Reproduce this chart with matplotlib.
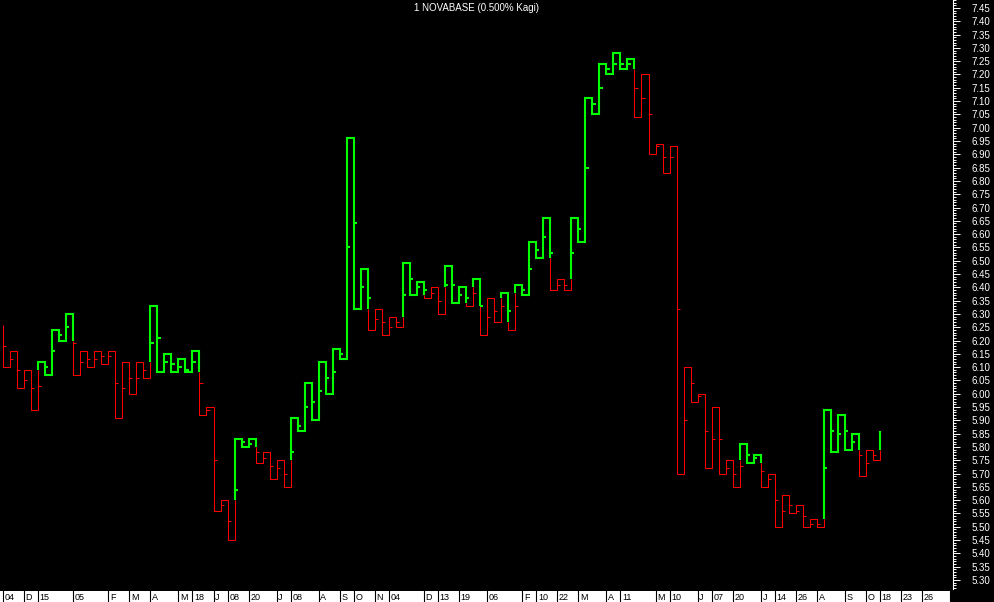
import matplotlib
matplotlib.use("Agg")
import matplotlib.pyplot as plt
from matplotlib.ticker import MultipleLocator, FormatStrFormatter

plt.rcParams['font.family'] = ['Liberation Sans', 'DejaVu Sans']

title = "1 NOVABASE (0.500% Kagi)"

# Kagi turning levels: line starts at levels[0], column i runs to levels[i + 1]
levels = [6.26,
          6.10, 6.16, 6.02, 6.09, 5.94, 6.12, 6.07, 6.24, 6.20, 6.30,
          6.07, 6.16, 6.10, 6.16, 6.11, 6.16, 5.91, 6.12, 6.00, 6.12,
          6.06, 6.33, 6.08, 6.15, 6.08, 6.13, 6.08, 6.16, 5.92, 5.95,
          5.56, 5.60, 5.45, 5.83, 5.80, 5.83, 5.74, 5.78, 5.68, 5.75,
          5.65, 5.91, 5.86, 6.04, 5.90, 6.12, 6.00, 6.17, 6.13, 6.96,
          6.32, 6.47, 6.24, 6.32, 6.22, 6.29, 6.25, 6.49, 6.37, 6.42,
          6.36, 6.40, 6.30, 6.48, 6.34, 6.40, 6.33, 6.43, 6.22, 6.36,
          6.27, 6.38, 6.24, 6.41, 6.37, 6.57, 6.51, 6.66, 6.39, 6.43,
          6.39, 6.66, 6.57, 7.11, 7.05, 7.24, 7.20, 7.28, 7.22, 7.26,
          7.04, 7.20, 6.90, 6.94, 6.83, 6.93, 5.70, 6.10, 5.97, 6.00,
          5.72, 5.95, 5.70, 5.75, 5.65, 5.81, 5.74, 5.77, 5.65, 5.70,
          5.50, 5.62, 5.55, 5.58, 5.50, 5.53, 5.50, 5.94, 5.78, 5.92,
          5.79, 5.85, 5.69, 5.79, 5.75, 5.86]

# small price marks on each column (nan = none)
nan = float('nan')
marks = [6.18, 6.13, 6.09, 6.05, 6.02, 6.03, 6.10, 6.16, 6.22, 6.25,
         6.19, 6.12, 6.13, 6.13, 6.14, 6.14, 6.04, 6.02, 6.06, 6.06,
         6.09, 6.19, 6.21, 6.12, 6.11, 6.10, 6.09, 6.12, 6.04, 5.94,
         5.75, 5.58, 5.52, 5.64, 5.82, 5.81, 5.78, 5.76, 5.73, 5.72,
         5.70, 5.78, 5.88, 5.95, 5.97, 6.01, 6.06, 6.08, 6.15, 6.55,
         6.64, 6.40, 6.36, 6.28, 6.27, 6.25, 6.27, 6.37, 6.43, 6.40,
         6.39, 6.38, 6.35, 6.41, 6.41, 6.37, 6.36, 6.38, 6.33, 6.29,
         6.31, 6.33, 6.31, 6.33, 6.39, 6.47, 6.54, 6.59, 6.53, 6.41,
         6.41, 6.53, 6.62, 6.85, 7.09, 7.15, 7.22, 7.24, 7.24, 7.24,
         7.15, 7.11, 7.05, 6.93, 6.89, 6.89, 6.32, 5.90, 6.04, 5.99,
         5.86, 5.83, 5.83, 5.72, 5.70, 5.73, 5.77, 5.76, 5.71, 5.68,
         5.60, 5.56, 5.58, 5.56, 5.54, 5.51, 5.51, 5.72, 5.86, 5.85,
         5.86, 5.82, 5.77, 5.74, 5.77, nan]

# date strip: column index where each label starts
date_pos = [0, 3, 5, 10, 15, 18, 21, 25, 27, 30, 32, 35, 39, 41, 45,
            48, 50, 53, 55, 60, 62, 65, 69, 74, 76, 79, 82, 86, 88, 93,
            95, 99, 101, 104, 108, 110, 113, 116, 120, 123, 125, 128, 131]
date_labels = ["04", "D", "15", "05", "F", "M", "A", "M", "18", "J", "08",
               "20", "J", "08", "A", "S", "O", "N", "04", "D", "13", "19",
               "06", "F", "10", "22", "M", "A", "11", "M", "10", "J", "07",
               "20", "J", "14", "26", "A", "S", "O", "18", "23", "26"]
strip_end = 135

GREEN = '#00ff00'
RED = '#ff0000'
WIDTH = {GREEN: 1.5, RED: 0.75}


def kagi_segments(levels):
    """Return list of (x0, y0, x1, y1, color) and the mark colors per column."""
    segs = []
    col_info = []
    color = RED
    last_high, last_low = levels[0], levels[0]
    for i in range(len(levels) - 1):
        a, b = levels[i], levels[i + 1]
        old = color
        switch = None
        if b > a:
            if color == RED and b > last_high:
                switch = last_high
            last_high = b
        else:
            if color == GREEN and b < last_low:
                switch = last_low
            last_low = b
        if switch is not None:
            color = GREEN if old == RED else RED
            segs.append((i, a, i, switch, old))
            segs.append((i, switch, i, b, color))
        else:
            segs.append((i, a, i, b, color))
        col_info.append((a, switch, old, color))
        if i < len(levels) - 2:
            segs.append((i, b, i + 1, b, color))
    return segs, col_info


segs, col_info = kagi_segments(levels)

fig = plt.figure(figsize=(9.94, 6.02), dpi=100, facecolor='black')
ax = fig.add_axes([0, 13 / 602, 953 / 994, 589 / 602], facecolor='black')

# merge segments into runs of same colour
runs = []
for x0, y0, x1, y1, c in segs:
    if runs and runs[-1][2] == c:
        runs[-1][0].append(x1)
        runs[-1][1].append(y1)
    else:
        runs.append(([x0, x1], [y0, y1], c))
for xs, ys, c in runs:
    ax.plot(xs, ys, color=c, lw=WIDTH[c], solid_joinstyle='miter',
            solid_capstyle='butt')

# price marks
for i, m in enumerate(marks):
    if m != m:
        continue
    a, switch, old, new = col_info[i]
    if switch is None:
        c = new
    elif (a <= m <= switch) or (switch <= m <= a):
        c = old
    else:
        c = new
    ax.plot([i, i + 0.45], [m, m], color=c, lw=WIDTH[c],
            solid_capstyle='butt')

ax.set_xlim(-0.43, 135.4)
ax.set_ylim(5.266, 7.480)
ax.set_xticks([])
ax.yaxis.tick_right()
ax.yaxis.set_major_locator(MultipleLocator(0.05))
ax.yaxis.set_minor_locator(MultipleLocator(0.01))
ax.yaxis.set_major_formatter(FormatStrFormatter('%.2f'))
ax.tick_params(axis='y', which='major', colors='white', labelsize=7,
               length=5, width=0.7, pad=8)
ax.tick_params(axis='y', which='minor', colors='white', length=2.2, width=0.7)
for side in ['left', 'top', 'bottom']:
    ax.spines[side].set_visible(False)
ax.spines['right'].set_color('white')
ax.spines['right'].set_linewidth(0.8)

fig.text(476 / 994, 1 - 8 / 602, title, ha='center', va='center',
         color='white', fontsize=7)

# date strip
sx = fig.add_axes([0, 0, 953 / 994, 11 / 602], facecolor='white')
sx.set_xlim(-0.43, 135.4)
sx.set_ylim(0, 1)
sx.axvspan(strip_end, 136, color='black', lw=0)
for p, lab in zip(date_pos, date_labels):
    sx.axvline(p, color='black', lw=0.8)
    sx.annotate(lab, (p, 0.45), xytext=(1.2, 0), textcoords='offset points',
                ha='left', va='center', fontsize=6.5, color='black')
sx.axvline(strip_end, color='black', lw=0.8)
sx.set_xticks([])
sx.set_yticks([])
for s in sx.spines.values():
    s.set_visible(False)

fig.savefig('out.png', dpi=100, facecolor='black')
